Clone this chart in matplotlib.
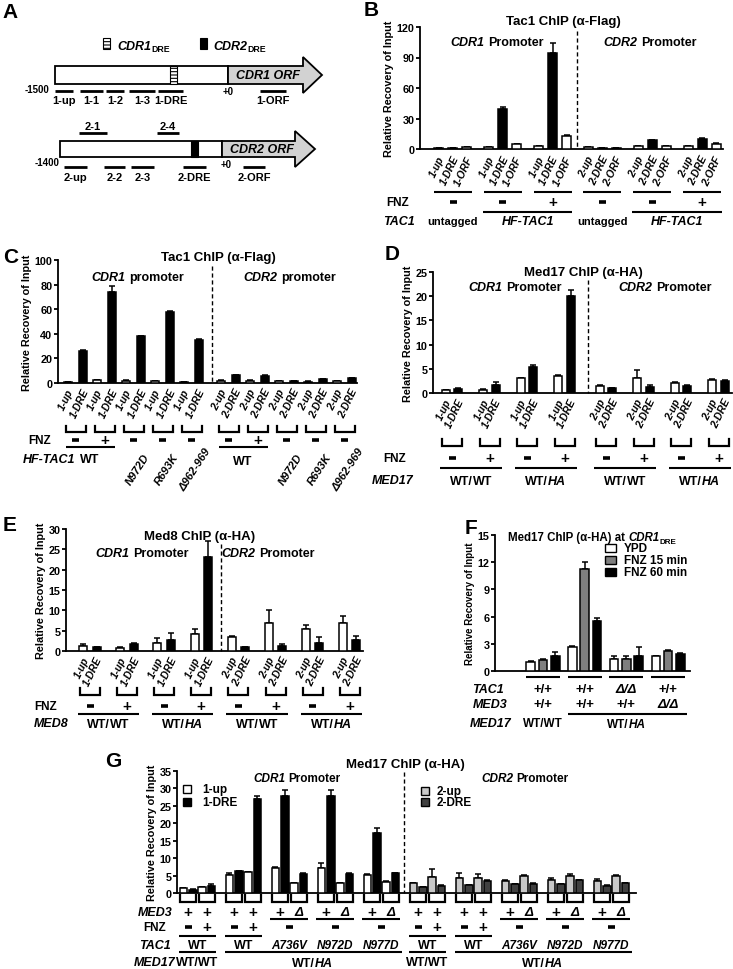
import numpy as np
import matplotlib
matplotlib.use('Agg')
import matplotlib.pyplot as plt
from matplotlib.patches import Rectangle, Polygon

plt.rcParams['font.family'] = ['Liberation Sans', 'DejaVu Sans']
plt.rcParams['font.weight'] = 'bold'
plt.rcParams['axes.labelweight'] = 'bold'
plt.rcParams['hatch.linewidth'] = 0.8

# ---------------- data ----------------
# A: probe names on the promoter maps
a_cdr1_probes = ['1-up', '1-1', '1-2', '1-3', '1-DRE', '1-ORF']
a_cdr2_below = ['2-up', '2-2', '2-3', '2-DRE', '2-ORF']
a_cdr2_above = ['2-1', '2-4']

# B: Tac1 ChIP (a-Flag), three probes per condition
b_probes = [['1-up', '1-DRE', '1-ORF']] * 3 + [['2-up', '2-DRE', '2-ORF']] * 3
b_up = [0.8, 1.5, 3.0, 1.5, 2.5, 2.5]
b_up_err = [0.1, 0.2, 0.4, 0.1, 0.2, 0.2]
b_dre = [0.8, 39.0, 94.0, 1.0, 8.5, 10.0]
b_dre_err = [0.1, 2.5, 10.0, 0.1, 0.8, 1.0]
b_orf = [2.0, 4.5, 13.0, 1.0, 2.5, 5.0]
b_orf_err = [0.2, 0.5, 0.8, 0.1, 0.3, 0.5]
b_fnz = ['-', '-', '+', '-', '-', '+']

# C: Tac1 ChIP with TAC1 mutants
c_probes = [['1-up', '1-DRE']] * 5 + [['2-up', '2-DRE']] * 5
c_up = [1.0, 2.5, 2.0, 1.5, 1.0, 2.0, 2.0, 1.5, 1.2, 1.8]
c_up_err = [0.1, 0.2, 0.1, 0.1, 0.1, 0.1, 0.1, 0.1, 0.1, 0.1]
c_dre = [26.0, 74.0, 38.0, 58.0, 35.0, 6.5, 6.0, 1.8, 3.0, 3.8]
c_dre_err = [1.0, 4.5, 0.6, 0.5, 0.6, 0.3, 0.3, 0.2, 0.3, 0.3]
c_fnz = ['-', '+', '-', '-', '-', '-', '+', '-', '-', '-']
c_mutants = ['N972D', 'R693K', '\u0394962-969']

# D: Med17 ChIP
d_probes = [['1-up', '1-DRE']] * 4 + [['2-up', '2-DRE']] * 4
d_up = [0.6, 0.7, 3.0, 3.5, 1.4, 3.0, 2.1, 2.7]
d_up_err = [0.05, 0.1, 0.2, 0.2, 0.15, 1.8, 0.1, 0.15]
d_dre = [0.9, 1.7, 5.3, 20.0, 1.0, 1.2, 1.5, 2.5]
d_dre_err = [0.1, 0.5, 0.5, 1.2, 0.1, 0.4, 0.1, 0.1]
d_fnz = ['-', '+'] * 4
d_med17 = [('WT/', 'WT'), ('WT/', 'HA'), ('WT/', 'WT'), ('WT/', 'HA')]

# E: Med8 ChIP
e_probes = d_probes
e_up = [1.3, 0.8, 2.0, 4.3, 3.5, 6.8, 5.3, 7.0]
e_up_err = [0.3, 0.2, 1.1, 1.0, 0.3, 3.3, 1.0, 1.7]
e_dre = [0.9, 1.8, 2.8, 23.0, 1.0, 1.3, 1.9, 2.8]
e_dre_err = [0.1, 0.2, 1.7, 4.0, 0.1, 0.5, 1.5, 0.9]
e_fnz = ['-', '+'] * 4

# F: Med17 ChIP at CDR1 DRE
f_series = ['YPD', 'FNZ 15 min', 'FNZ 60 min']
f_ypd = [1.0, 2.7, 1.3, 1.6]
f_ypd_err = [0.1, 0.05, 0.3, 0.1]
f_15 = [1.2, 11.2, 1.3, 2.2]
f_15_err = [0.1, 0.8, 0.4, 0.1]
f_60 = [1.6, 5.5, 1.7, 1.9]
f_60_err = [0.5, 0.3, 0.9, 0.1]
f_tac1 = ['+/+', '+/+', '\u0394/\u0394', '+/+']
f_med3 = ['+/+', '+/+', '+/+', '\u0394/\u0394']

# G: Med17 ChIP with MED3 deletion and TAC1 alleles
g_up1 = [1.3, 1.6, 5.3, 5.9, 7.1, 2.9, 7.2, 2.8, 5.1, 3.2]
g_up1_err = [0.1, 0.2, 0.3, 0.2, 0.4, 0.1, 1.3, 0.1, 0.3, 0.2]
g_dre1 = [1.0, 2.0, 6.2, 27.0, 27.8, 5.5, 27.7, 5.4, 17.2, 5.6]
g_dre1_err = [0.1, 0.6, 0.2, 0.8, 1.8, 0.2, 1.8, 0.2, 1.5, 0.2]
g_up2 = [2.8, 4.5, 4.2, 4.3, 3.4, 4.8, 3.8, 4.8, 3.5, 5.0]
g_up2_err = [0.1, 2.3, 1.6, 1.1, 0.4, 0.3, 0.4, 0.6, 0.4, 0.3]
g_dre2 = [1.6, 2.0, 2.3, 3.4, 2.5, 2.7, 2.6, 3.6, 2.1, 2.9]
g_dre2_err = [0.1, 0.4, 0.1, 0.2, 0.1, 0.1, 0.1, 0.1, 0.1, 0.1]
g_med3 = ['+', '+', '+', '+', '+', '\u0394', '+', '\u0394', '+', '\u0394']
g_tac1 = ['WT', 'WT', 'A736V', 'N972D', 'N977D']

# ---------------- figure helpers ----------------
W, H = 733, 970
fig = plt.figure(figsize=(W / 100, H / 100), dpi=100)
ov = fig.add_axes([0, 0, 1, 1], zorder=5)
ov.set_xlim(0, W)
ov.set_ylim(H, 0)
ov.axis('off')


def txt(x, y, s, size=8, italic=False, ha='center', **kw):
    return ov.text(x, y, s, fontsize=size, fontstyle='italic' if italic else 'normal',
                   ha=ha, va='center', **kw)


def rich(x, y, parts, size=8.5, ha='center'):
    r = fig.canvas.get_renderer()
    base = y + 0.36 * size * 100 / 72
    placed, total = [], 0
    for part in parts:
        s, italic = part[0], part[1]
        scale = part[2] if len(part) > 2 else 1.0
        dy = part[3] if len(part) > 3 else 0
        if s == ' ':
            w = 0.28 * size * 100 / 72
            placed.append((None, w))
        else:
            t = ov.text(0, base + dy, s, fontsize=size * scale,
                        fontstyle='italic' if italic else 'normal', ha='left', va='baseline')
            w = t.get_window_extent(r).width
            placed.append((t, w))
        total += w
    x0 = {'center': x - total / 2, 'left': x, 'right': x - total}[ha]
    for t, w in placed:
        if t is not None:
            t.set_x(x0)
        x0 += w


def hline(x0, x1, y, lw=1.5):
    ov.plot([x0, x1], [y, y], color='black', lw=lw, solid_capstyle='butt')


def sign(x, y, s):
    # GraphPad style: '-' is a short thick bar, '+' a bold plus
    if s == '-':
        hline(x - 3.5, x + 3.5, y, lw=2.6)
    elif s == '+':
        txt(x, y, '+', size=11)
    else:
        txt(x, y, s, size=9.5, italic=True)


def dashed(x, y0, y1):
    ov.plot([x, x], [y0, y1], color='black', lw=1, ls=(0, (3, 2)))


def bracket(xc, half, ytop, ybot):
    ov.plot([xc - half, xc - half, xc + half, xc + half], [ytop, ybot, ybot, ytop],
            color='black', lw=1.6, solid_joinstyle='miter')


def probe_labels(xs, names, y):
    for x, s in zip(xs, names):
        ov.text(x + 3, y, s, rotation=65, rotation_mode='anchor', ha='right', va='center',
                fontsize=7.5, fontstyle='italic')


def centers(first, step, n, gap_after=None, gap=0.0):
    c = first + step * np.arange(n, dtype=float)
    if gap_after is not None:
        c[gap_after:] += gap
    return c


def panel_axes(left, right, y0, ytop, ymax, step, lab_size=7.8):
    ax = fig.add_axes([left / W, 1 - y0 / H, (right - left) / W, (y0 - ytop) / H])
    ax.set_xlim(left, right)
    ax.set_ylim(0, ymax)
    ax.set_yticks(np.arange(0, ymax + 0.01, step))
    for s in ['top', 'right']:
        ax.spines[s].set_visible(False)
    for s in ['left', 'bottom']:
        ax.spines[s].set_linewidth(1.3)
    ax.set_xticks([])
    ax.tick_params(axis='y', length=3, width=1.3, labelsize=7.8, pad=1)
    ax.set_ylabel('Relative Recovery of Input', fontsize=lab_size, labelpad=2)
    ax.patch.set_alpha(0)
    return ax


def draw_bars(ax, xs, vals, errs, color, width):
    ax.bar(xs, vals, width=width, color=color, edgecolor='black', linewidth=1.1, zorder=3)
    ax.errorbar(xs, vals, yerr=[np.zeros(len(vals)), errs], fmt='none', ecolor='black',
                elinewidth=1.1, capsize=2.5, capthick=1.1, zorder=2)


def letter(x, y, s):
    ov.text(x, y, s, fontsize=15, ha='center', va='center')


# ---------------- A: promoter maps ----------------
letter(10, 13, 'A')
ov.add_patch(Rectangle((103, 39), 7, 11, fc='white', ec='black', lw=0.8, hatch='-----'))
rich(117, 45, [('CDR1', True), ('DRE', False, 0.7, 3)], size=9, ha='left')
ov.add_patch(Rectangle((200, 39), 7, 11, fc='black', ec='black', lw=0.8))
rich(213, 45, [('CDR2', True), ('DRE', False, 0.7, 3)], size=9, ha='left')

ov.add_patch(Rectangle((55, 67), 173, 18, fc='white', ec='black', lw=1.3))
ov.add_patch(Polygon([(228, 67), (303, 67), (303, 58), (322, 76), (303, 94), (303, 85), (228, 85)],
                     closed=True, fc='#d2d2d2', ec='black', lw=1.3))
ov.add_patch(Rectangle((170, 67), 7, 18, fc='white', ec='black', lw=0.8, hatch='-----'))
txt(268, 76, 'CDR1 ORF', size=9, italic=True)
txt(37, 90, '-1500', size=7)
txt(228, 92, '+0', size=7)
a_cdr1_spans = [(55, 73), (80, 103), (106, 124), (129, 155), (158, 183), (260, 286)]
for name, (x0, x1) in zip(a_cdr1_probes, a_cdr1_spans):
    hline(x0, x1, 92, lw=2)
    txt((x0 + x1) / 2, 101, name, size=8)

ov.add_patch(Rectangle((60, 142), 162, 16, fc='white', ec='black', lw=1.3))
ov.add_patch(Polygon([(222, 142), (295, 142), (295, 132), (315, 150), (295, 168), (295, 158), (222, 158)],
                     closed=True, fc='#d2d2d2', ec='black', lw=1.3))
ov.add_patch(Rectangle((191, 142), 7, 16, fc='black', ec='black', lw=0.8))
txt(262, 150, 'CDR2 ORF', size=9, italic=True)
txt(47, 163, '-1400', size=7)
txt(226, 165, '+0', size=7)
a_cdr2_below_spans = [(64, 87), (104, 125), (131, 154), (183, 206), (243, 265)]
for name, (x0, x1) in zip(a_cdr2_below, a_cdr2_below_spans):
    hline(x0, x1, 168, lw=2)
    txt((x0 + x1) / 2, 178, name, size=8)
a_cdr2_above_spans = [(79, 107), (157, 179)]
for name, (x0, x1) in zip(a_cdr2_above, a_cdr2_above_spans):
    hline(x0, x1, 134, lw=2)
    txt((x0 + x1) / 2, 127, name, size=8)

# ---------------- B ----------------
letter(371, 11, 'B')
axB = panel_axes(420, 723, 150, 28, 120, 30)
bc = centers(453, 49.8, 6)
bstep = 14
for i, (vals, errs, col) in enumerate([(b_up, b_up_err, 'white'), (b_dre, b_dre_err, 'black'),
                                        (b_orf, b_orf_err, 'white')]):
    xs = bc + (i - 1) * bstep
    draw_bars(axB, xs, vals, errs, col, 9)
    probe_labels(xs, [p[i] for p in b_probes], 157)
dashed(577, 32, 150)
txt(563, 22, 'Tac1 ChIP (\u03b1-Flag)', size=9.5)
rich(497, 41, [('CDR1', True), (' ', False), ('Promoter', False)], size=9)
rich(650, 41, [('CDR2', True), (' ', False), ('Promoter', False)], size=9)
for c, s in zip(bc, b_fnz):
    hline(c - 19, c + 19, 193)
    sign(c, 203, s)
txt(398, 203, 'FNZ', size=8.5)
hline(bc[1] - 20, bc[2] + 19, 213)
hline(bc[4] - 20, bc[5] + 20, 213)
txt(399, 222, 'TAC1', size=9, italic=True)
txt(bc[0], 222, 'untagged', size=8)
txt(bc[3], 222, 'untagged', size=8)
txt((bc[1] + bc[2]) / 2, 222, 'HF-TAC1', size=9, italic=True)
txt((bc[4] + bc[5]) / 2, 222, 'HF-TAC1', size=9, italic=True)

# ---------------- C ----------------
letter(11, 258, 'C')
axC = panel_axes(58, 357, 384, 261, 100, 20)
cc = centers(75.5, 29, 10, gap_after=5, gap=8)
for i, (vals, errs, col) in enumerate([(c_up, c_up_err, 'white'), (c_dre, c_dre_err, 'black')]):
    xs = cc + (i - 0.5) * 15
    draw_bars(axC, xs, vals, errs, col, 8)
    probe_labels(xs, [p[i] for p in c_probes], 390)
dashed(212, 267, 384)
txt(218, 258, 'Tac1 ChIP (\u03b1-Flag)', size=9.5)
rich(138, 277, [('CDR1', True), (' ', False), ('promoter', False)], size=9)
rich(290, 277, [('CDR2', True), (' ', False), ('promoter', False)], size=9)
for c, s in zip(cc, c_fnz):
    bracket(c, 10, 427, 433)
    sign(c, 441, s)
txt(40, 441, 'FNZ', size=8.5)
hline(cc[0] - 10, cc[1] + 10, 448)
hline(cc[5] - 10, cc[6] + 10, 448)
txt(49, 460, 'HF-TAC1', size=9, italic=True)
txt((cc[0] + cc[1]) / 2, 460, 'WT', size=9)
txt((cc[5] + cc[6]) / 2, 462, 'WT', size=9)
for k, m in enumerate(c_mutants * 2):
    g = [2, 3, 4, 7, 8, 9][k]
    txt(cc[g] + 4, 470, m, size=8, italic=True, rotation=57, rotation_mode='anchor')

# ---------------- D ----------------
letter(392, 254, 'D')
axD = panel_axes(433, 732, 394, 273, 25, 5)
dc = centers(452, 37.5, 8, gap_after=4, gap=4)
for i, (vals, errs, col) in enumerate([(d_up, d_up_err, 'white'), (d_dre, d_dre_err, 'black')]):
    xs = dc + (i - 0.5) * 12.5
    draw_bars(axD, xs, vals, errs, col, 8)
    probe_labels(xs, [p[i] for p in d_probes], 400)
dashed(588, 281, 394)
txt(583, 273, 'Med17 ChIP (\u03b1-HA)', size=9.5)
rich(515, 287, [('CDR1', True), (' ', False), ('Promoter', False)], size=9)
rich(665, 287, [('CDR2', True), (' ', False), ('Promoter', False)], size=9)
for c, s in zip(dc, d_fnz):
    bracket(c, 10, 440, 447)
    sign(c, 459, s)
txt(395, 459, 'FNZ', size=8.5)
txt(393, 481, 'MED17', size=9, italic=True)
for k, (a, b) in enumerate(d_med17):
    hline(dc[2 * k] - 12, dc[2 * k + 1] + 12, 469)
    rich((dc[2 * k] + dc[2 * k + 1]) / 2, 481, [(a, False), (b, b == 'HA')], size=9)

# ---------------- E ----------------
letter(10, 526, 'E')
axE = panel_axes(66, 363, 652, 530, 30, 5)
ec = centers(90, 37.1, 8)
for i, (vals, errs, col) in enumerate([(e_up, e_up_err, 'white'), (e_dre, e_dre_err, 'black')]):
    xs = ec + (i - 0.5) * 13.5
    draw_bars(axE, xs, vals, errs, col, 8)
    probe_labels(xs, [p[i] for p in e_probes], 658)
dashed(221, 545, 652)
txt(200, 537, 'Med8 ChIP (\u03b1-HA)', size=9.5)
rich(142, 553, [('CDR1', True), (' ', False), ('Promoter', False)], size=9)
rich(268, 553, [('CDR2', True), (' ', False), ('Promoter', False)], size=9)
for c, s in zip(ec, e_fnz):
    bracket(c, 10, 689, 696)
    sign(c, 707, s)
txt(46, 707, 'FNZ', size=8.5)
txt(51, 724, 'MED8', size=9, italic=True)
for k, (a, b) in enumerate(d_med17):
    hline(ec[2 * k] - 12, ec[2 * k + 1] + 12, 715)
    rich((ec[2 * k] + ec[2 * k + 1]) / 2, 724, [(a, False), (b, b == 'HA')], size=9)

# ---------------- F ----------------
letter(471, 529, 'F')
axF = panel_axes(495, 690, 672, 536, 15, 3, lab_size=7)
fc = centers(543, 41.7, 4)
f_cols = ['white', '#7f7f7f', 'black']
for i, (vals, errs) in enumerate([(f_ypd, f_ypd_err), (f_15, f_15_err), (f_60, f_60_err)]):
    draw_bars(axF, fc + (i - 1) * 12.3, vals, errs, f_cols[i], 8.5)
rich(592, 537, [('Med17 ChIP (\u03b1-HA) at', False), (' ', False), ('CDR1', True),
                ('DRE', False, 0.7, 3)], size=8.3)
for k, name in enumerate(f_series):
    y = 549 + 12 * k
    ov.add_patch(Rectangle((605, y - 4), 11, 8, fc=f_cols[k], ec='black', lw=1))
    txt(624, y, name, size=8.5, ha='left')
for c, t, m in zip(fc, f_tac1, f_med3):
    hline(c - 17, c + 17, 678)
    txt(c, 690, t, size=9.5, italic='\u0394' in t)
    txt(c, 705, m, size=9.5, italic='\u0394' in m)
txt(488, 690, 'TAC1', size=9, italic=True)
txt(490, 705, 'MED3', size=9, italic=True)
hline(fc[1] - 17, fc[3] + 19, 715)
txt(491, 724, 'MED17', size=9, italic=True)
txt(fc[0], 724, 'WT/WT', size=8.5)
rich((fc[1] + fc[3]) / 2, 724, [('WT/', False), ('HA', True)], size=8.5)

# ---------------- G ----------------
letter(113, 762, 'G')
axG = panel_axes(177, 636, 894, 772, 35, 5)
gs = centers(188, 46, 10)
gp = np.ravel(np.column_stack([gs, gs + 18.5]))
draw_bars(axG, gp[:10] - 4.75, g_up1, g_up1_err, 'white', 7.5)
draw_bars(axG, gp[:10] + 4.75, g_dre1, g_dre1_err, 'black', 7.5)
draw_bars(axG, gp[10:] - 4.75, g_up2, g_up2_err, '#c8c8c8', 7.5)
draw_bars(axG, gp[10:] + 4.75, g_dre2, g_dre2_err, '#404040', 7.5)
dashed(404, 773, 894)
txt(405, 765, 'Med17 ChIP (\u03b1-HA)', size=9.5)
rich(297, 778, [('CDR1', True), (' ', False), ('Promoter', False)], size=8.5)
rich(525, 778, [('CDR2', True), (' ', False), ('Promoter', False)], size=8.5)
for k, (name, col) in enumerate([('1-up', 'white'), ('1-DRE', 'black')]):
    ov.add_patch(Rectangle((183, 786 + 13 * k), 8, 8, fc=col, ec='black', lw=1))
    txt(202, 790 + 13 * k, name, size=8.5, ha='left')
for k, (name, col) in enumerate([('2-up', '#c8c8c8'), ('2-DRE', '#404040')]):
    ov.add_patch(Rectangle((421, 788 + 11 * k), 8, 8, fc=col, ec='black', lw=1))
    txt(437, 792 + 11 * k, name, size=8.5, ha='left')
for j, c in enumerate(gp):
    bracket(c, 8, 896, 903)
    sign(c, 913, g_med3[j % 10])
txt(155, 913, 'MED3', size=9, italic=True)
txt(155, 928, 'FNZ', size=8.5)
txt(155, 946, 'TAC1', size=9, italic=True)
txt(155, 963, 'MED17', size=9, italic=True)
for k, s0 in enumerate(gs):
    sub = k % 5
    mid = s0 + 9.25
    if sub < 2:
        sign(s0, 928, '-')
        sign(s0 + 18.5, 928, '+')
        hline(s0 - 9, s0 + 28, 937)
        txt(mid, 946, g_tac1[sub], size=9)
    else:
        hline(s0 - 10, s0 + 28, 920)
        sign(mid, 928, '-')
        txt(mid, 946, g_tac1[sub], size=8.5, italic=True)
for half in [0, 5]:
    hline(gs[half] - 9, gs[half] + 28, 953)
    hline(gs[half + 1] - 9, gs[half + 4] + 30, 953)
    txt(gs[half] + 9.25, 963, 'WT/WT', size=9)
    rich((gs[half + 1] + gs[half + 4] + 18.5) / 2, 963, [('WT/', False), ('HA', True)], size=9)

fig.savefig('out.png', dpi=100)
